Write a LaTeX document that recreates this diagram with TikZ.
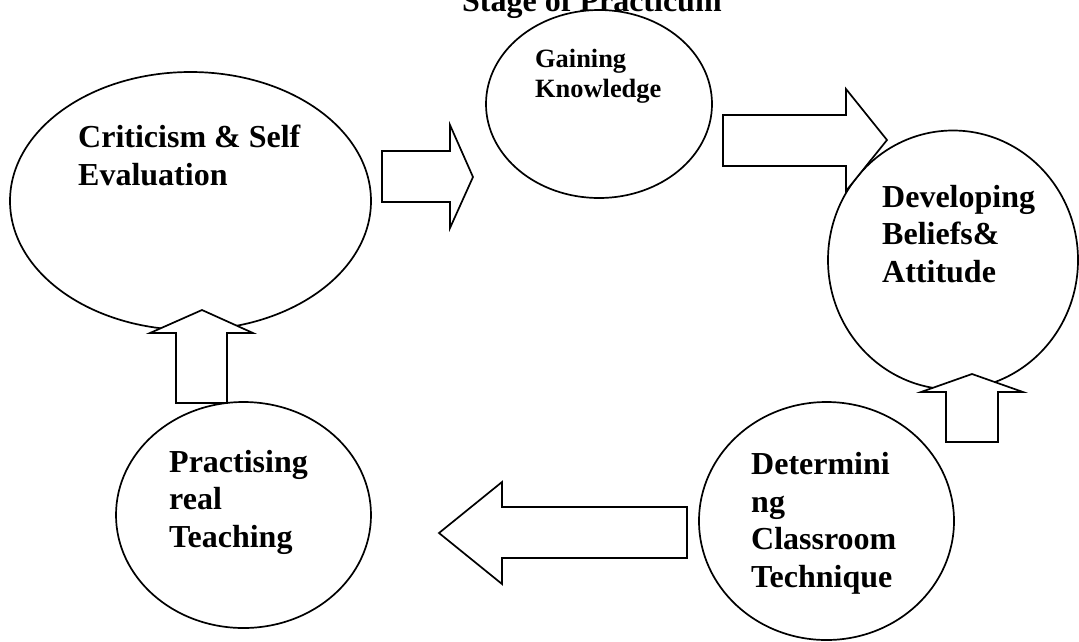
\documentclass[tikz,border=0pt]{standalone}
\usepackage{fontspec}
\setmainfont{Liberation Serif}
\usetikzlibrary{shapes.geometric}

\tikzset{
  stage/.style={ellipse, draw, line width=1.7pt, inner sep=0pt},
  blockarrow/.style={draw, fill=white, line width=1.7pt, line join=miter},
  lbl/.style={anchor=base west, align=left, inner sep=0pt, font=\bfseries\fontsize{32}{37.5}\selectfont},
}

\begin{document}
\begin{tikzpicture}[x=1pt, y=-1pt]
	\useasboundingbox (0,0) rectangle (1079,641);
	\clip (0,0) rectangle (1079,641);
	
	%%%%% TITLE %%%%%
	\node[lbl] (title) at (462,11) {Stage of Practicum};
	
	%%%%% STAGES %%%%%
	\node[stage, minimum width=361pt, minimum height=258pt] (crit) at (190.5,201) {};
	\node[stage, minimum width=226pt, minimum height=188pt] (gain) at (599,104) {};
	\node[stage, minimum width=250pt, minimum height=259pt] (devel) at (953,260) {};
	\node[stage, minimum width=255pt, minimum height=238pt] (determ) at (826.5,521) {};
	\node[stage, minimum width=255pt, minimum height=226pt] (pract) at (243.5,515) {};
	
	%%%%% ARROWS %%%%%
	\draw[blockarrow] (382,151) -- (450,151) -- (450,125) -- (473,177) -- (450,228) -- (450,202) -- (382,202) -- cycle;
	\draw[blockarrow] (723,115) -- (846,115) -- (846,89) -- (887,140) -- (846,191) -- (846,166) -- (723,166) -- cycle;
	\draw[blockarrow] (946,442) -- (946,392) -- (921,392) -- (972,374) -- (1023,392) -- (998,392) -- (998,442) -- cycle;
	\draw[blockarrow] (687,507) -- (502,507) -- (502,482) -- (439,533) -- (502,584) -- (502,558) -- (687,558) -- cycle;
	\draw[blockarrow] (176,403) -- (176,333) -- (150,333) -- (202,310) -- (253,333) -- (227,333) -- (227,403) -- cycle;
	
	%%%%% LABELS %%%%%
	\node[lbl] (critlbl) at (78,185) {Criticism \& Self\\Evaluation};
	\node[lbl, font=\bfseries\fontsize{26.4}{30}\selectfont] (gainlbl) at (535,97) {Gaining\\Knowledge};
	\node[lbl] (devellbl) at (882,282) {Developing\\Beliefs\&\\Attitude};
	\node[lbl] (determlbl) at (751,587) {Determini\\ng\\Classroom\\Technique};
	\node[lbl] (practlbl) at (169,547) {Practising\\real\\Teaching};
\end{tikzpicture}
\end{document}
